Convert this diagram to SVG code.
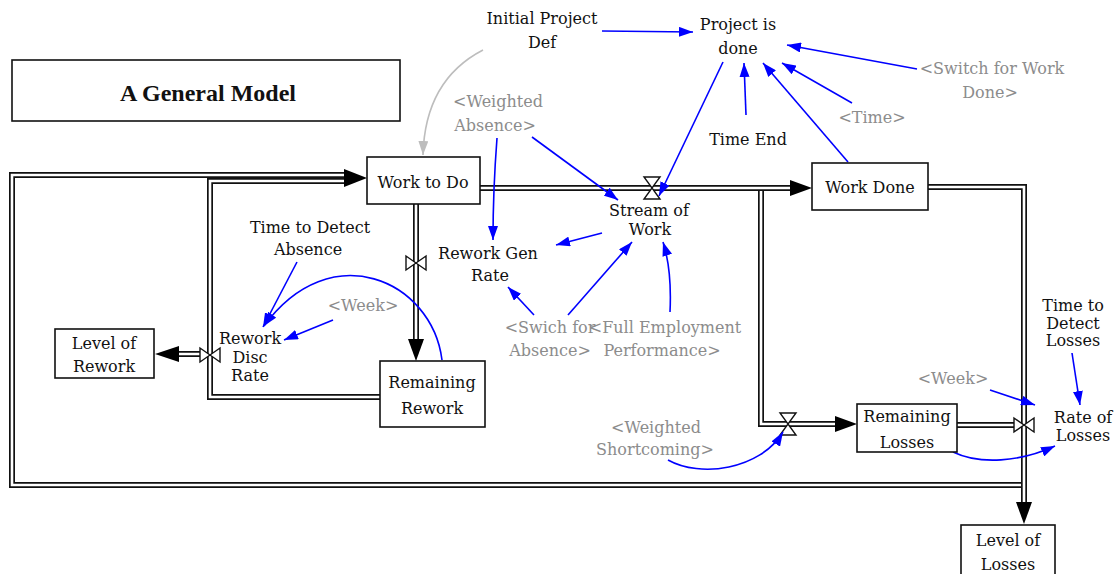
<svg xmlns="http://www.w3.org/2000/svg" width="1119" height="574" viewBox="0 0 1119 574">
<style>
.t{font-family:"DejaVu Serif","Liberation Serif",serif;font-size:16px;fill:#111;text-anchor:middle}
.g{fill:#8c8c8c}
.box{fill:#fff;stroke:#111;stroke-width:1.6}
.pb{fill:none;stroke:#111;stroke-width:6;stroke-linejoin:miter}
.pw{fill:none;stroke:#fff;stroke-width:2.6;stroke-linejoin:miter}
.ah{fill:#000}
.valve{fill:#fff;stroke:#111;stroke-width:1.4}
.ln{fill:none;stroke:#0000ff;stroke-width:1.6}
.lg{fill:none;stroke:#bdbdbd;stroke-width:1.6}
</style>
<defs>
<marker id="ab" viewBox="0 0 14 10" refX="14" refY="5" markerWidth="14" markerHeight="10" markerUnits="userSpaceOnUse" orient="auto"><path d="M0,0 L14,5 L0,10 z" fill="#0000ff"/></marker>
<marker id="ag" viewBox="0 0 14 10" refX="14" refY="5" markerWidth="14" markerHeight="10" markerUnits="userSpaceOnUse" orient="auto"><path d="M0,0 L14,5 L0,10 z" fill="#bdbdbd"/></marker>
</defs>
<rect width="1119" height="574" fill="#fff"/>

<g id="title">
<rect x="12" y="60" width="388" height="61" class="box" stroke-width="2"/>
<text x="208" y="101" style="font-family:'Liberation Serif',serif;font-weight:bold;font-size:24px;fill:#111;text-anchor:middle">A General Model</text>
</g>

<g id="pipes">
<path class="pb" d="M1024,485 L12,485 L12,175 L350,175"/>
<path class="pw" d="M1024,485 L12,485 L12,175 L350,175"/>
<path class="pb" d="M380,397 L210,397 L210,181 L350,181"/>
<path class="pw" d="M380,397 L210,397 L210,181 L350,181"/>
<path class="pb" d="M416,204 L416,342"/>
<path class="pw" d="M416,204 L416,342"/>
<path class="pb" d="M761,188 L761,424 L838,424"/>
<path class="pw" d="M761,188 L761,424 L838,424"/>
<path class="pb" d="M480,188 L795,188"/>
<path class="pw" d="M480,188 L795,188"/>
<path class="pb" d="M928,187 L1024,187 L1024,506"/>
<path class="pw" d="M928,187 L1024,187 L1024,506"/>
<path class="pb" d="M957,425 L1018,425"/>
<path class="pw" d="M957,425 L1018,425"/>
<path class="pb" d="M205,354 L172,354"/>
<path class="pw" d="M205,354 L172,354"/>
<path class="ah" d="M344,169 L367,178 L344,187 Z"/>
<path class="ah" d="M790,180 L812,188 L790,196 Z"/>
<path class="ah" d="M408,339 L416,361 L424,339 Z"/>
<path class="ah" d="M835,416 L857,424 L835,432 Z"/>
<path class="ah" d="M1016,502 L1024,524 L1032,502 Z"/>
<path class="ah" d="M179,346 L155,354 L179,362 Z"/>
</g>

<g id="valves">
<path class="valve" d="M644,177 L660,177 L644,199 L660,199 Z"/>
<path class="valve" d="M780,413 L796,413 L780,435 L796,435 Z"/>
<path class="valve" d="M406,256 L406,270 L426,256 L426,270 Z"/>
<path class="valve" d="M200,348 L200,362 L220,348 L220,362 Z"/>
<path class="valve" d="M1014,418 L1014,432 L1034,418 L1034,432 Z"/>
</g>

<g id="links">
<path class="ln" marker-end="url(#ab)" d="M602,31 L693,32"/>
<path class="lg" marker-end="url(#ag)" d="M483,50 Q425,80 423,155"/>
<path class="ln" marker-end="url(#ab)" d="M917,69 L787,45"/>
<path class="ln" marker-end="url(#ab)" d="M852,103 L782,63"/>
<path class="ln" marker-end="url(#ab)" d="M848,162 L763,63"/>
<path class="ln" marker-end="url(#ab)" d="M746,115 L744,63"/>
<path class="ln" marker-end="url(#ab)" d="M723,62 L659,196"/>
<path class="ln" marker-end="url(#ab)" d="M532,137 L618,200"/>
<path class="ln" marker-end="url(#ab)" d="M497,138 Q493,190 493,240"/>
<path class="ln" marker-end="url(#ab)" d="M602,233 L556,245"/>
<path class="ln" marker-end="url(#ab)" d="M534,315 L508,287"/>
<path class="ln" marker-end="url(#ab)" d="M568,315 L632,242"/>
<path class="ln" marker-end="url(#ab)" d="M670,312 Q672,270 663,242"/>
<path class="ln" marker-end="url(#ab)" d="M297,262 L263,327"/>
<path class="ln" marker-end="url(#ab)" d="M442,360 C432,280 330,235 264,326"/>
<path class="ln" marker-end="url(#ab)" d="M333,320 L284,340"/>
<path class="ln" marker-end="url(#ab)" d="M668,460 C700,478 760,470 783,432"/>
<path class="ln" marker-end="url(#ab)" d="M953,452 C980,465 1020,462 1055,446"/>
<path class="ln" marker-end="url(#ab)" d="M990,390 L1035,405"/>
<path class="ln" marker-end="url(#ab)" d="M1072,353 L1080,405"/>
</g>

<g id="work-to-do"><rect x="367" y="157" width="113" height="47" class="box"/><text class="t" x="423" y="188">Work to Do</text></g>
<g id="work-done"><rect x="812" y="163" width="116" height="47" class="box"/><text class="t" x="870" y="193">Work Done</text></g>
<g id="remaining-rework"><rect x="380" y="361" width="105" height="66" class="box"/><text class="t" x="432" y="388">Remaining</text><text class="t" x="432" y="414">Rework</text></g>
<g id="level-of-rework"><rect x="55" y="329" width="99" height="49" class="box"/><text class="t" x="104" y="349">Level of</text><text class="t" x="104" y="372">Rework</text></g>
<g id="remaining-losses"><rect x="857" y="404" width="100" height="48" class="box"/><text class="t" x="907" y="422">Remaining</text><text class="t" x="907" y="448">Losses</text></g>
<g id="level-of-losses"><rect x="961" y="525" width="94" height="55" class="box"/><text class="t" x="1008" y="546">Level of</text><text class="t" x="1008" y="570">Losses</text></g>

<g id="initial-project-def"><text class="t" x="542" y="24">Initial Project</text><text class="t" x="542" y="48">Def</text></g>
<g id="project-is-done"><text class="t" x="738" y="30">Project is</text><text class="t" x="738" y="54">done</text></g>
<g id="switch-for-work-done"><text class="t g" x="992" y="74">&lt;Switch for Work</text><text class="t g" x="990" y="98">Done&gt;</text></g>
<g id="time"><text class="t g" x="872" y="123">&lt;Time&gt;</text></g>
<g id="time-end"><text class="t" x="748" y="145">Time End</text></g>
<g id="weighted-absence"><text class="t g" x="498" y="107">&lt;Weighted</text><text class="t g" x="495" y="131">Absence&gt;</text></g>
<g id="stream-of-work"><text class="t" x="649" y="216">Stream of</text><text class="t" x="650" y="235">Work</text></g>
<g id="rework-gen-rate"><text class="t" x="488" y="259">Rework Gen</text><text class="t" x="490" y="281">Rate</text></g>
<g id="time-to-detect-absence"><text class="t" x="310" y="233">Time to Detect</text><text class="t" x="308" y="255">Absence</text></g>
<g id="week-1"><text class="t g" x="363" y="311">&lt;Week&gt;</text></g>
<g id="rework-disc-rate"><text class="t" x="250" y="344">Rework</text><text class="t" x="250" y="363">Disc</text><text class="t" x="250" y="381">Rate</text></g>
<g id="swich-for-absence"><text class="t g" x="550" y="333">&lt;Swich for</text><text class="t g" x="550" y="356">Absence&gt;</text></g>
<g id="full-employment-performance"><text class="t g" x="665" y="333">&lt;Full Employment</text><text class="t g" x="662" y="356">Performance&gt;</text></g>
<g id="time-to-detect-losses"><text class="t" x="1073" y="311">Time to</text><text class="t" x="1073" y="329">Detect</text><text class="t" x="1073" y="346">Losses</text></g>
<g id="week-2"><text class="t g" x="953" y="384">&lt;Week&gt;</text></g>
<g id="rate-of-losses"><text class="t" x="1083" y="423">Rate of</text><text class="t" x="1083" y="441">Losses</text></g>
<g id="weighted-shortcoming"><text class="t g" x="656" y="433">&lt;Weighted</text><text class="t g" x="655" y="455">Shortcoming&gt;</text></g>
</svg>
